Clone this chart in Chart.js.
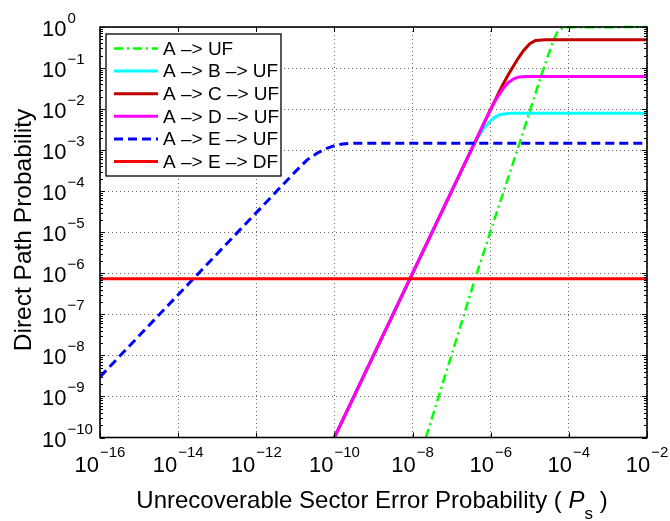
<!DOCTYPE html>
<html>
<head>
<meta charset="utf-8">
<script src="https://cdn.jsdelivr.net/npm/chart.js@4"></script>
<style>
  html, body { margin: 0; padding: 0; background: #fff; }
  #wrap { width: 670px; height: 521px; }
</style>
</head>
<body>
<div id="wrap"><canvas id="grafico" width="670" height="521"></canvas></div>
<script>
// valores (eixos log-log)
const ufX = [2.2e-8, 4.0e-7, 1.35e-6, 5.1e-6, 1.8e-5, 2.7e-5, 3.8e-5, 5.0e-5, 6.3e-5, 1e-4, 1e-2];
const ufY = [1e-10, 7.4e-7, 2.6e-5, 1.2e-3, 5.1e-2, 0.16, 0.4, 0.74, 0.91, 0.98, 1.0];

const bUfX = [1e-10, 3.16e-7, 4.8e-7, 6.5e-7, 9.5e-7, 1.26e-6, 1.74e-6, 3.2e-6, 1e-2];
const bUfY = [1e-10, 1e-3, 2.1e-3, 3.3e-3, 5.0e-3, 6.3e-3, 7.4e-3, 7.9e-3, 7.9e-3];

const cUfX = [1e-10, 1e-6, 2.0e-6, 3.16e-6, 5.0e-6, 6.8e-6, 1e-5, 1.4e-5, 2.5e-5, 1e-2];
const cUfY = [1e-10, 1e-2, 3.8e-2, 8.3e-2, 0.17, 0.26, 0.39, 0.47, 0.49, 0.49];

const dUfX = [1e-10, 7.9e-7, 1.4e-6, 2.1e-6, 2.8e-6, 3.8e-6, 5.0e-6, 7.9e-6, 1e-2];
const dUfY = [1e-10, 6.3e-3, 1.8e-2, 3.2e-2, 4.4e-2, 5.4e-2, 6.0e-2, 6.2e-2, 6.2e-2];

const eUfX = [1e-16, 1e-11, 2.0e-11, 3.5e-11, 5.8e-11, 1e-10, 1.6e-10, 3.2e-10, 1e-2];
const eUfY = [3.0e-9, 3.0e-4, 5.8e-4, 8.3e-4, 1.07e-3, 1.29e-3, 1.41e-3, 1.48e-3, 1.48e-3];

const eDfX = [1e-16, 1e-2];
const eDfY = [7.4e-7, 7.4e-7];

const legendas = ['A \u2013> UF', 'A \u2013> B \u2013> UF', 'A \u2013> C \u2013> UF',
                  'A \u2013> D \u2013> UF', 'A \u2013> E \u2013> UF', 'A \u2013> E \u2013> DF'];

const xTicks = [1e-16, 1e-14, 1e-12, 1e-10, 1e-8, 1e-6, 1e-4, 1e-2];
const yTicks = [1e-10, 1e-9, 1e-8, 1e-7, 1e-6, 1e-5, 1e-4, 1e-3, 1e-2, 1e-1, 1];

const fonte = '"Liberation Sans", Arial, Helvetica, sans-serif';

const series = [
  { x: ufX,  y: ufY,  cor: '#00ff00', largura: 2.5, traco: [9, 4, 2, 4] },
  { x: bUfX, y: bUfY, cor: '#00ffff', largura: 3,   traco: [] },
  { x: cUfX, y: cUfY, cor: '#c00000', largura: 3,   traco: [] },
  { x: dUfX, y: dUfY, cor: '#ff00ff', largura: 3,   traco: [] },
  { x: eUfX, y: eUfY, cor: '#0000ff', largura: 3,   traco: [9, 5] },
  { x: eDfX, y: eDfY, cor: '#ff0000', largura: 3,   traco: [] }
];

function linha(ctx, x1, y1, x2, y2) {
  ctx.beginPath();
  ctx.moveTo(x1, y1);
  ctx.lineTo(x2, y2);
  ctx.stroke();
}

// "10" com expoente
function rotuloPotencia(ctx, valor, x, baseY, expY, centro) {
  const base = '10';
  const ex = String(Math.round(Math.log10(valor))).replace('-', '\u2212');
  ctx.font = '22px ' + fonte;
  const wb = ctx.measureText(base).width;
  ctx.font = '15px ' + fonte;
  const we = ctx.measureText(ex).width;
  const x0 = centro ? x - (wb + 1 + we) / 2 : x;
  ctx.font = '22px ' + fonte;
  ctx.fillText(base, x0, baseY);
  ctx.font = '15px ' + fonte;
  ctx.fillText(ex, x0 + wb + 1, expY);
}

const eixosMatlab = {
  id: 'eixosMatlab',
  afterDraw(chart) {
    const ctx = chart.ctx;
    const a = chart.chartArea;
    const sx = chart.scales.x, sy = chart.scales.y;
    ctx.save();

    // legenda
    const lx = 106, ly = 34, lw = 175, lh = 142;
    ctx.fillStyle = '#fff';
    ctx.fillRect(lx, ly, lw, lh);
    ctx.strokeStyle = '#000';
    ctx.lineWidth = 1.3;
    ctx.strokeRect(lx, ly, lw, lh);
    ctx.textAlign = 'left';
    ctx.textBaseline = 'middle';
    series.forEach((s, i) => {
      const yy = 48.5 + i * 22.6;
      ctx.strokeStyle = s.cor;
      ctx.lineWidth = s.largura;
      ctx.setLineDash(s.traco);
      linha(ctx, 114, yy, 158, yy);
      ctx.setLineDash([]);
      ctx.fillStyle = '#000';
      ctx.font = '19px ' + fonte;
      ctx.fillText(legendas[i], 163, yy + 1);
    });

    // caixa dos eixos
    ctx.strokeStyle = '#000';
    ctx.lineWidth = 1.6;
    ctx.strokeRect(a.left, a.top, a.right - a.left, a.bottom - a.top);

    // marcas
    ctx.lineWidth = 1;
    xTicks.forEach(v => {
      const px = Math.round(sx.getPixelForValue(v)) + 0.5;
      linha(ctx, px, a.bottom, px, a.bottom - 5);
      linha(ctx, px, a.top, px, a.top + 5);
    });
    yTicks.forEach((v, i) => {
      const py = Math.round(sy.getPixelForValue(v)) + 0.5;
      linha(ctx, a.left, py, a.left + 5, py);
      linha(ctx, a.right, py, a.right - 5, py);
      if (i < yTicks.length - 1) {
        for (let m = 2; m <= 9; m++) {
          const pm = Math.round(sy.getPixelForValue(v * m)) + 0.5;
          linha(ctx, a.left, pm, a.left + 3, pm);
          linha(ctx, a.right, pm, a.right - 3, pm);
        }
      }
    });

    // rótulos
    ctx.fillStyle = '#000';
    ctx.textBaseline = 'alphabetic';
    ctx.textAlign = 'left';
    yTicks.forEach(v => {
      const py = sy.getPixelForValue(v);
      rotuloPotencia(ctx, v, 42, py + 9, py - 4, false);
    });
    xTicks.forEach(v => {
      const px = sx.getPixelForValue(v);
      rotuloPotencia(ctx, v, px, a.bottom + 34.5, a.bottom + 19.5, true);
    });

    // título do eixo x
    const t1 = 'Unrecoverable Sector Error Probability ( ';
    ctx.font = '24px ' + fonte;
    const w1 = ctx.measureText(t1).width;
    ctx.font = 'italic 24px ' + fonte;
    const wP = ctx.measureText('P').width;
    ctx.font = '17px ' + fonte;
    const wS = ctx.measureText('s').width;
    ctx.font = '24px ' + fonte;
    const wF = ctx.measureText(' )').width;
    let tx = 372 - (w1 + wP + wS + wF) / 2;
    const base = 508;
    ctx.fillText(t1, tx, base); tx += w1;
    ctx.font = 'italic 24px ' + fonte;
    ctx.fillText('P', tx, base); tx += wP;
    ctx.font = '17px ' + fonte;
    ctx.fillText('s', tx, base + 11); tx += wS;
    ctx.font = '24px ' + fonte;
    ctx.fillText(' )', tx, base);

    // título do eixo y
    ctx.translate(31, 230);
    ctx.rotate(-Math.PI / 2);
    ctx.textAlign = 'center';
    ctx.font = '24.5px ' + fonte;
    ctx.fillText('Direct Path Probability', 0, 0);

    ctx.restore();
  }
};

function eixoLog(min, max, marcas) {
  return {
    type: 'logarithmic',
    min: min,
    max: max,
    afterBuildTicks: escala => { escala.ticks = marcas.map(v => ({ value: v, major: true })); },
    ticks: { display: false },
    grid: { drawTicks: false, color: 'rgba(0,0,0,0.6)', lineWidth: 1 },
    border: { display: false, dash: [1, 3] }
  };
}

const ctx = document.getElementById('grafico').getContext('2d');
new Chart(ctx, {
  type: 'scatter',
  data: {
    datasets: series.map((s, i) => ({
      label: legendas[i],
      data: s.x.map((v, k) => ({ x: v, y: s.y[k] })),
      showLine: true,
      borderColor: s.cor,
      backgroundColor: s.cor,
      borderWidth: s.largura,
      borderDash: s.traco,
      pointRadius: 0,
      fill: false,
      tension: 0,
      order: series.length - i,
      clip: i === 0 ? false : undefined
    }))
  },
  options: {
    responsive: false,
    animation: false,
    layout: { padding: { left: 100, right: 23, top: 27, bottom: 83.5 } },
    plugins: { legend: { display: false }, tooltip: { enabled: false } },
    scales: {
      x: eixoLog(1e-16, 1e-2, xTicks),
      y: eixoLog(1e-10, 1, yTicks)
    }
  },
  plugins: [eixosMatlab]
});
</script>
</body>
</html>
